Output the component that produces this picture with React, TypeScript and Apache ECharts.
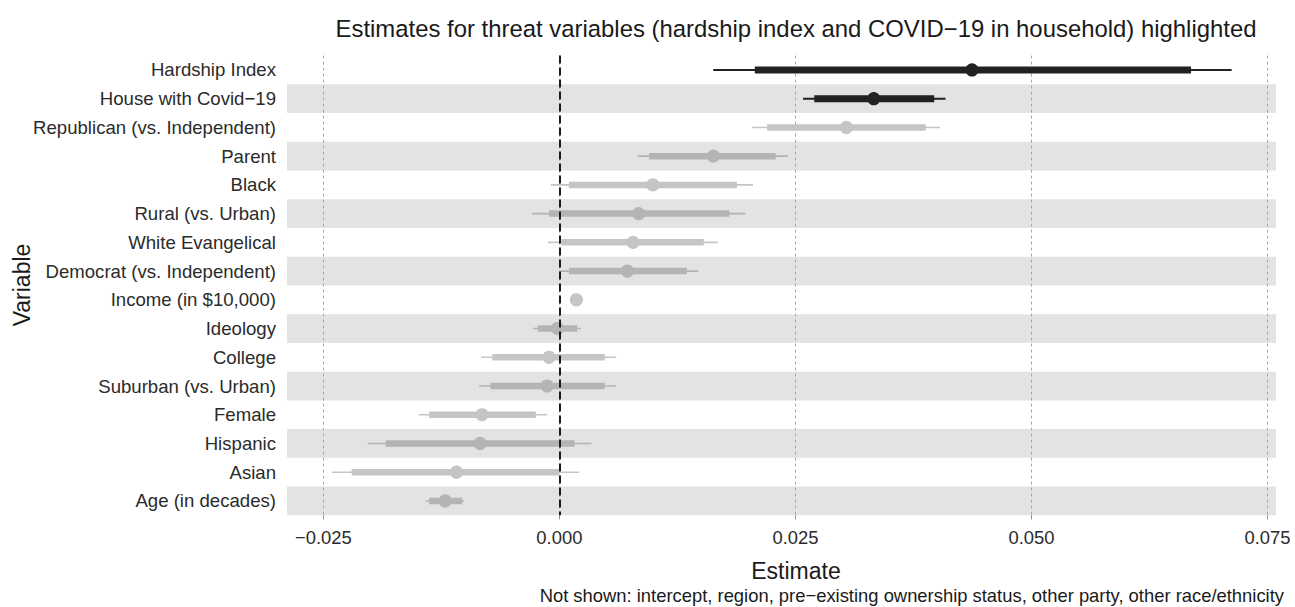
import React, { useEffect, useRef } from "react";
import * as echarts from "echarts";

// Variables, top to bottom
const variables = [
  "Hardship Index",
  "House with Covid\u221219",
  "Republican (vs. Independent)",
  "Parent",
  "Black",
  "Rural (vs. Urban)",
  "White Evangelical",
  "Democrat (vs. Independent)",
  "Income (in $10,000)",
  "Ideology",
  "College",
  "Suburban (vs. Urban)",
  "Female",
  "Hispanic",
  "Asian",
  "Age (in decades)",
];

const estimate = [0.0437, 0.0333, 0.0304, 0.0163, 0.0099, 0.0084, 0.0078, 0.0072, 0.0018, -0.0002, -0.0011, -0.0013, -0.0082, -0.0084, -0.0109, -0.0121];
const lowerOuter = [0.0163, 0.0258, 0.0204, 0.0083, -0.0009, -0.0029, -0.0012, 0.0000, 0.0016, -0.0028, -0.0083, -0.0085, -0.0149, -0.0203, -0.0241, -0.0142];
const lowerInner = [0.0207, 0.0270, 0.0220, 0.0095, 0.0010, -0.0011, 0.0002, 0.0010, 0.0017, -0.0023, -0.0071, -0.0073, -0.0138, -0.0184, -0.0220, -0.0138];
const upperInner = [0.0669, 0.0397, 0.0388, 0.0229, 0.0188, 0.0180, 0.0153, 0.0135, 0.0019, 0.0019, 0.0048, 0.0048, -0.0025, 0.0016, 0.0000, -0.0103];
const upperOuter = [0.0712, 0.0409, 0.0403, 0.0242, 0.0205, 0.0197, 0.0168, 0.0147, 0.0020, 0.0023, 0.0060, 0.0060, -0.0013, 0.0034, 0.0021, -0.0101];
const highlighted = ["Hardship Index", "House with Covid\u221219"];

const titleText = "Estimates for threat variables (hardship index and COVID\u221219 in household) highlighted";
const footnoteText = "Not shown: intercept, region, pre\u2212existing ownership status, other party, other race/ethnicity";

const FONT = "'Liberation Sans', Arial, Helvetica, sans-serif";

export default function App() {
  const ref = useRef<HTMLDivElement>(null);

  useEffect(() => {
    if (!ref.current) return;
    const chart = echarts.init(ref.current, null, { renderer: "svg" });

    const data = variables.map((v, i) => [lowerOuter[i], lowerInner[i], estimate[i], upperInner[i], upperOuter[i], i]);

    const option: any = {
      animation: false,
      backgroundColor: "#ffffff",
      grid: { left: 287, right: 19, top: 55.6, height: 459.7, containLabel: false },
      xAxis: {
        type: "value",
        min: -0.02885,
        max: 0.0759,
        minInterval: 0.025,
        maxInterval: 0.025,
        splitNumber: 4,
        z: 1,
        axisLine: { show: false },
        axisTick: { show: true, length: 4, lineStyle: { color: "#8a8a8a", width: 1 } },
        axisLabel: {
          showMinLabel: false,
          showMaxLabel: false,
          margin: 13,
          fontSize: 18.4,
          fontFamily: FONT,
          color: "#2b2b2b",
          formatter: (v: number) => (v < 0 ? "\u2212" : "") + Math.abs(v).toFixed(3),
        },
        splitLine: {
          show: true,
          showMinLine: false,
          showMaxLine: false,
          lineStyle: { color: "#a6a6a6", width: 1, type: [3, 3] },
        },
      },
      yAxis: {
        type: "category",
        inverse: true,
        data: variables,
        z: 0,
        axisLine: { show: false },
        axisTick: { show: false },
        axisLabel: { margin: 11, fontSize: 18.6, fontFamily: FONT, color: "#2b2b2b" },
        splitLine: { show: false },
        splitArea: { show: true, areaStyle: { color: ["rgba(255,255,255,0)", "#e2e3e5"] } },
      },
      series: [
        {
          type: "custom",
          data,
          encode: { x: [0, 1, 2, 3, 4], y: 5 },
          z: 3,
          renderItem: (params: any, api: any) => {
            const row = api.value(5);
            const name = variables[row];
            const isHi = highlighted.indexOf(name) >= 0;
            const color = isHi ? "#222222" : row % 2 === 1 ? "#b4b4b6" : "#c5c5c5";
            const pLo = api.coord([api.value(0), row]);
            const pLi = api.coord([api.value(1), row]);
            const pE = api.coord([api.value(2), row]);
            const pUi = api.coord([api.value(3), row]);
            const pUo = api.coord([api.value(4), row]);
            const y = pE[1];
            return {
              type: "group",
              children: [
                { type: "line", shape: { x1: pLo[0], y1: y, x2: pUo[0], y2: y }, style: { stroke: color, lineWidth: isHi ? 2 : 1.6 } },
                { type: "line", shape: { x1: pLi[0], y1: y, x2: pUi[0], y2: y }, style: { stroke: color, lineWidth: isHi ? 7 : 6.5 } },
                { type: "circle", shape: { cx: pE[0], cy: y, r: 6.6 }, style: { fill: color } },
              ],
            };
          },
        },
        {
          type: "line",
          data: [],
          z: 5,
          markLine: {
            silent: true,
            symbol: "none",
            label: { show: false },
            lineStyle: { color: "#1a1a1a", width: 2, type: [8, 4] },
            data: [{ xAxis: 0 }],
          },
        },
      ],
      graphic: [
        {
          type: "text",
          x: 796,
          y: 28,
          style: { text: titleText, fontSize: 23.9, fontFamily: FONT, fill: "#1a1a1a", textAlign: "center", textVerticalAlign: "middle" },
        },
        {
          type: "text",
          x: 796,
          y: 571,
          style: { text: "Estimate", fontSize: 23, fontFamily: FONT, fill: "#1a1a1a", textAlign: "center", textVerticalAlign: "middle" },
        },
        {
          type: "text",
          x: 22,
          y: 285,
          rotation: Math.PI / 2,
          style: { text: "Variable", fontSize: 23, fontFamily: FONT, fill: "#1a1a1a", textAlign: "center", textVerticalAlign: "middle" },
        },
        {
          type: "text",
          x: 1284,
          y: 595,
          style: { text: footnoteText, fontSize: 18.4, fontFamily: FONT, fill: "#1a1a1a", textAlign: "right", textVerticalAlign: "middle" },
        },
      ],
    };

    chart.setOption(option);
    return () => chart.dispose();
  }, []);

  return <div ref={ref} style={{ position: "fixed", left: 0, top: 0, width: 1295, height: 607 }} />;
}
